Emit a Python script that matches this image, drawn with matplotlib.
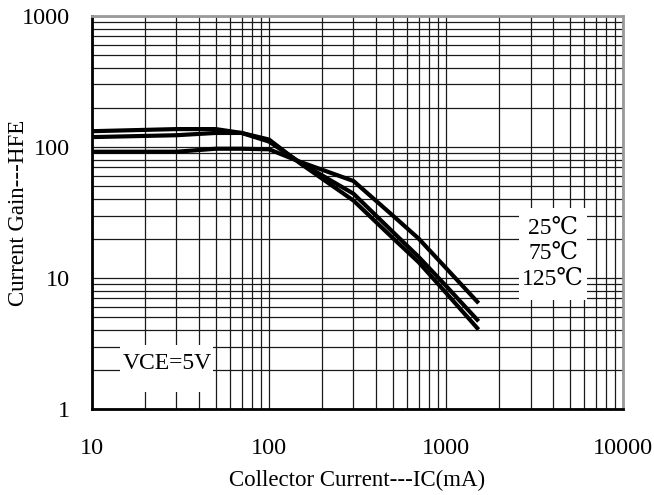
import matplotlib
matplotlib.use("Agg")
import matplotlib.pyplot as plt
from matplotlib.patches import Rectangle
from matplotlib.ticker import LogLocator, FixedLocator, NullFormatter

plt.rcParams['font.family'] = ['Liberation Serif', 'DejaVu Serif', 'Noto Sans CJK TC']

# Collector current (mA) and current gain readings per curve
ic = [10, 30, 50, 70, 100, 150, 300, 500, 700, 1000, 1500]
hfe_a = [92, 92, 97, 97, 96, 77, 55, 30, 20, 11.9, 6.6]
hfe_b = [119, 123, 128, 128, 110, 76, 44, 22.5, 14.5, 8.7, 4.8]
hfe_c = [132, 137, 137, 128, 114, 75, 39, 20.2, 13.2, 7.7, 4.15]

temps = ["25℃", "75℃", "125℃"]
x_ticks = [10, 100, 1000, 10000]
y_ticks = [1, 10, 100, 1000]

fig = plt.figure(figsize=(6.54, 4.95), dpi=100)
ax = fig.add_axes([0.1407, 0.1737, 0.812, 0.794])

for hfe in (hfe_a, hfe_b, hfe_c):
    ax.plot(ic, hfe, color="black", lw=3, solid_joinstyle="miter", zorder=4)

ax.set_xscale("log")
ax.set_yscale("log")
ax.set_xlim(10, 10000)
ax.set_ylim(1, 1000)

ax.xaxis.set_major_locator(FixedLocator(x_ticks))
ax.yaxis.set_major_locator(FixedLocator(y_ticks))
ax.set_xticklabels([str(t) for t in x_ticks])
ax.set_yticklabels([str(t) for t in y_ticks])
ax.xaxis.set_minor_locator(LogLocator(base=10, subs=range(2, 10), numticks=20))
ax.yaxis.set_minor_locator(LogLocator(base=10, subs=range(2, 10), numticks=20))
ax.xaxis.set_minor_formatter(NullFormatter())
ax.yaxis.set_minor_formatter(NullFormatter())

ax.grid(True, which="both", color="#1a1a1a", lw=0.9)
ax.set_axisbelow(True)
ax.tick_params(which="both", length=0, labelsize=17.5)
ax.tick_params(axis="x", pad=21)
ax.tick_params(axis="y", pad=16)

for side in ("left", "bottom"):
    ax.spines[side].set_color("black")
    ax.spines[side].set_linewidth(2)
for side in ("top", "right"):
    ax.spines[side].set_color("#999999")
    ax.spines[side].set_linewidth(2)

ax.set_xlabel("Collector Current---IC(mA)", fontsize=16.5, labelpad=8)
ax.set_ylabel("Current Gain---HFE", fontsize=16.5, va="center")
ax.yaxis.set_label_coords(-0.138, 0.5)

# white boxes behind the annotations
ax.add_patch(Rectangle((0.804, 0.278), 0.128, 0.234, transform=ax.transAxes,
                       facecolor="white", edgecolor="none", zorder=3))
ax.add_patch(Rectangle((0.053, 0.043), 0.175, 0.12, transform=ax.transAxes,
                       facecolor="white", edgecolor="none", zorder=3))

ax.text(0.868, 0.395, "\n".join(temps), transform=ax.transAxes,
        ha="center", va="center", fontsize=17, linespacing=1.3, zorder=5)
ax.text(0.141, 0.117, "VCE=5V", transform=ax.transAxes,
        ha="center", va="center", fontsize=17, zorder=5)

fig.savefig("out.png", dpi=100)
